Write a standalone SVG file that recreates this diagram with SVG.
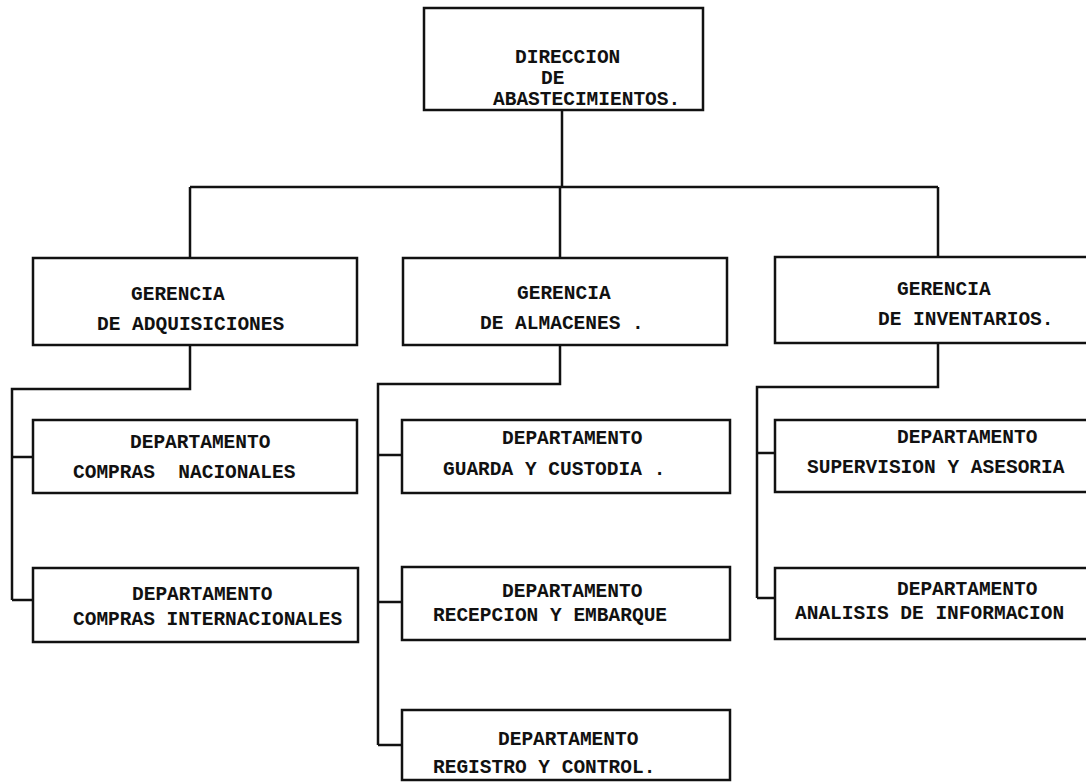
<svg xmlns="http://www.w3.org/2000/svg" width="1086" height="782" viewBox="0 0 1086 782">
<style>
.box{fill:#fff;stroke:#111;stroke-width:2.5}
.ln{fill:none;stroke:#111;stroke-width:2.5}
text{font-family:"Liberation Mono","DejaVu Sans Mono",monospace;font-size:19.5px;font-weight:bold;fill:#111;white-space:pre}
</style>
<rect width="1086" height="782" fill="#fff"/>
<g id="connectors">
<path class="ln" d="M562 110V187M190 187H938M190 187V258M560 187V258M938 187V257"/>
<path class="ln" d="M190 345V389H12V600M12 457H33M12 600H33"/>
<path class="ln" d="M560 345V384H378V745M378 455H402M378 602H402M378 745H402"/>
<path class="ln" d="M938 343V387H757V598M757 453H775M757 598H775"/>
</g>
<g id="direccion">
<rect class="box" x="424" y="8" width="279" height="102"/>
<text x="515" y="63">DIRECCION</text>
<text x="541" y="84">DE</text>
<text x="493" y="105">ABASTECIMIENTOS.</text>
</g>
<g id="g-adquisiciones">
<rect class="box" x="33" y="258" width="324" height="87"/>
<text x="131" y="300">GERENCIA</text>
<text x="97" y="330">DE ADQUISICIONES</text>
</g>
<g id="g-almacenes">
<rect class="box" x="403" y="258" width="324" height="87"/>
<text x="517" y="299">GERENCIA</text>
<text x="480" y="329">DE ALMACENES .</text>
</g>
<g id="g-inventarios">
<rect class="box" x="775" y="257" width="330" height="86"/>
<text x="897" y="295">GERENCIA</text>
<text x="878" y="325">DE INVENTARIOS.</text>
</g>
<g id="d-compras-nac">
<rect class="box" x="33" y="420" width="324" height="73"/>
<text x="130" y="448">DEPARTAMENTO</text>
<text x="73" y="478">COMPRAS  NACIONALES</text>
</g>
<g id="d-compras-int">
<rect class="box" x="33" y="568" width="325" height="74"/>
<text x="132" y="600">DEPARTAMENTO</text>
<text x="73" y="625">COMPRAS INTERNACIONALES</text>
</g>
<g id="d-guarda">
<rect class="box" x="402" y="420" width="328" height="73"/>
<text x="502" y="444">DEPARTAMENTO</text>
<text x="443" y="475">GUARDA Y CUSTODIA .</text>
</g>
<g id="d-recepcion">
<rect class="box" x="402" y="567" width="328" height="73"/>
<text x="502" y="597">DEPARTAMENTO</text>
<text x="433" y="621">RECEPCION Y EMBARQUE</text>
</g>
<g id="d-registro">
<rect class="box" x="402" y="710" width="328" height="70"/>
<text x="498" y="745">DEPARTAMENTO</text>
<text x="433" y="773">REGISTRO Y CONTROL.</text>
</g>
<g id="d-supervision">
<rect class="box" x="775" y="420" width="330" height="72"/>
<text x="897" y="443">DEPARTAMENTO</text>
<text x="807" y="473">SUPERVISION Y ASESORIA</text>
</g>
<g id="d-analisis">
<rect class="box" x="775" y="568" width="330" height="71"/>
<text x="897" y="595">DEPARTAMENTO</text>
<text x="795" y="619">ANALISIS DE INFORMACION</text>
</g>
</svg>
